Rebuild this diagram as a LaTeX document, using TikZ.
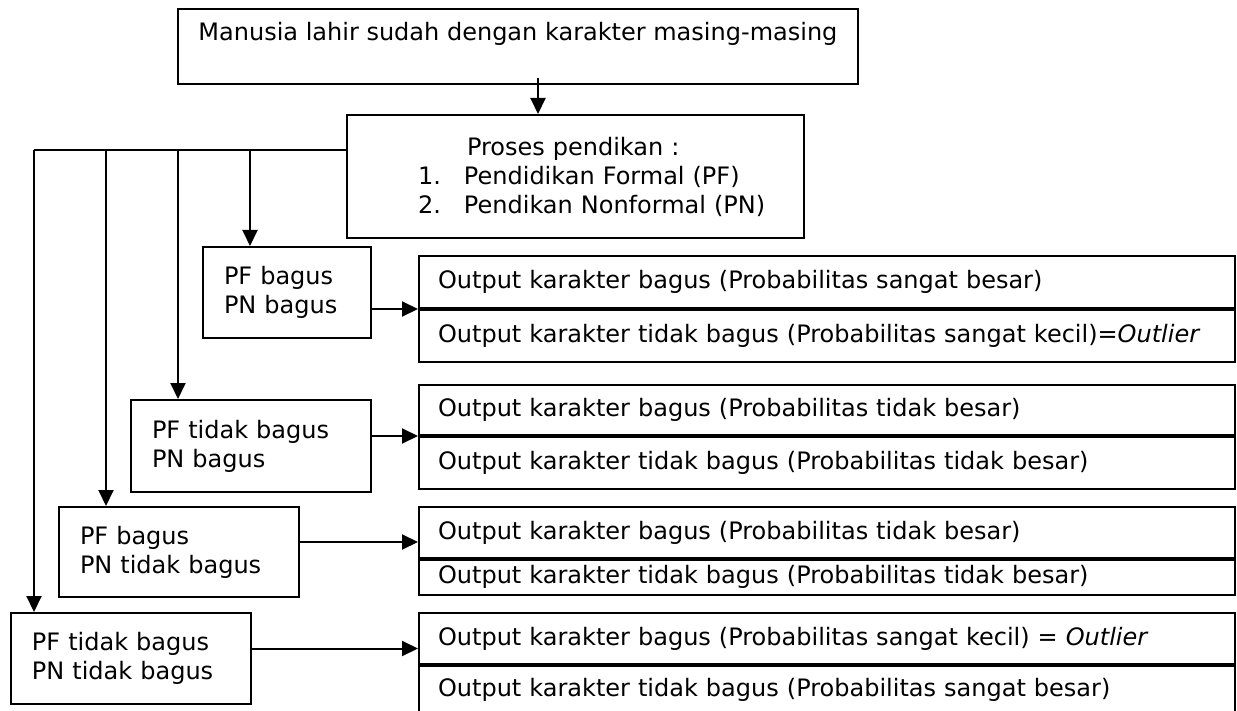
\documentclass[tikz,border=0pt]{standalone}
\usepackage{fontspec}
\setmainfont{DejaVu Sans}
\usetikzlibrary{arrows.meta,positioning}

\tikzset{
  box/.style={draw, line width=1pt, rectangle, inner xsep=10.5pt, inner ysep=0pt, align=left},
  outrow/.style={draw, line width=1pt, rectangle, minimum width=408pt, text width=389pt,
    inner xsep=9.5pt, inner ysep=0pt, align=left, anchor=north west},
  arr/.style={line width=1pt, -{Triangle[length=8pt,width=7.5pt]}},
  bus/.style={line width=1.4pt},
}

\begin{document}
\begin{tikzpicture}[x=0.5pt,y=-0.5pt,font=\fontsize{12}{14.5}\selectfont]
  \useasboundingbox (0,0) rectangle (1237,711);

  % top box
  \node[box, minimum width=340pt, minimum height=37.5pt, anchor=north west] (lahir) at (177,8) {};
  \node[anchor=west, inner sep=0pt] (lahirtxt) at ([xshift=10.5pt,yshift=-13pt]lahir.north west)
    {Manusia lahir sudah dengan karakter masing-masing};

  % education process
  \node[box, inner xsep=16.75pt, minimum width=228.5pt, minimum height=61.5pt, text width=195pt,
    anchor=north west] (proses) at (346,114)
    {\hspace*{43.25pt}Proses pendikan :\\
     \hspace*{18.75pt}\makebox[23pt][l]{1.}Pendidikan Formal (PF)\\
     \hspace*{18.75pt}\makebox[23pt][l]{2.}Pendikan Nonformal (PN)};

  \coordinate (lahirbawah) at (538,78);
  \draw[arr] (lahirbawah) -- (lahirbawah |- proses.north);

  % combinations
  \node[box, minimum width=84pt, minimum height=45.5pt, text width=63pt, anchor=north west] (pf1) at (202,246)
    {PF bagus\\PN bagus};
  \node[box, minimum width=120pt, minimum height=46pt, text width=99pt, anchor=north west] (pf2) at (130,399)
    {PF tidak bagus\\PN bagus};
  \node[box, minimum width=120pt, minimum height=45pt, text width=99pt, anchor=north west] (pf3) at (58,506)
    {PF bagus\\PN tidak bagus};
  \node[box, minimum width=120pt, minimum height=45.5pt, text width=99pt, anchor=north west] (pf4) at (10,612)
    {PF tidak bagus\\PN tidak bagus};

  % bus from the process box
  \coordinate (bus) at (34,150);
  \draw[bus] (proses.west |- bus) -- (bus);
  \foreach \x/\n in {34/pf4,106/pf3,178/pf2,250/pf1}
    \draw[arr] (\x,150) -- (\n.north -| \x,0);

  % outputs
  \node[outrow, minimum height=26pt] (o1a) at (418,255) {Output karakter bagus (Probabilitas sangat besar)};
  \node[outrow, minimum height=26pt] (o1b) at (o1a.south west)
    {\mbox{Output karakter tidak bagus (Probabilitas sangat kecil)=\textit{Outlier}}};

  \node[outrow, minimum height=25pt] (o2a) at (418,384) {Output karakter bagus (Probabilitas tidak besar)};
  \node[outrow, minimum height=26pt] (o2b) at (o2a.south west) {Output karakter tidak bagus (Probabilitas tidak besar)};

  \node[outrow, minimum height=25.5pt] (o3a) at (418,506) {Output karakter bagus (Probabilitas tidak besar)};
  \node[outrow, minimum height=17.5pt] (o3b) at (o3a.south west)
    {\raisebox{3.25pt}{Output karakter tidak bagus (Probabilitas tidak besar)}};

  \node[outrow, minimum height=25.5pt] (o4a) at (418,612)
    {\mbox{Output karakter bagus (Probabilitas sangat kecil) = \textit{Outlier}}};
  \node[outrow, minimum height=23.5pt] (o4b) at (o4a.south west) {Output karakter tidak bagus (Probabilitas sangat besar)};

  % arrows to outputs
  \draw[arr] (pf1.east |- o1a.south west) -- (o1a.south west);
  \draw[arr] (pf2.east |- o2a.south west) -- (o2a.south west);
  \draw[arr] ([yshift=5pt]pf3.east) -- ([yshift=5pt]pf3.east -| o3a.west);
  \draw[arr] ([yshift=5pt]pf4.east) -- ([yshift=5pt]pf4.east -| o4a.west);
\end{tikzpicture}
\end{document}
